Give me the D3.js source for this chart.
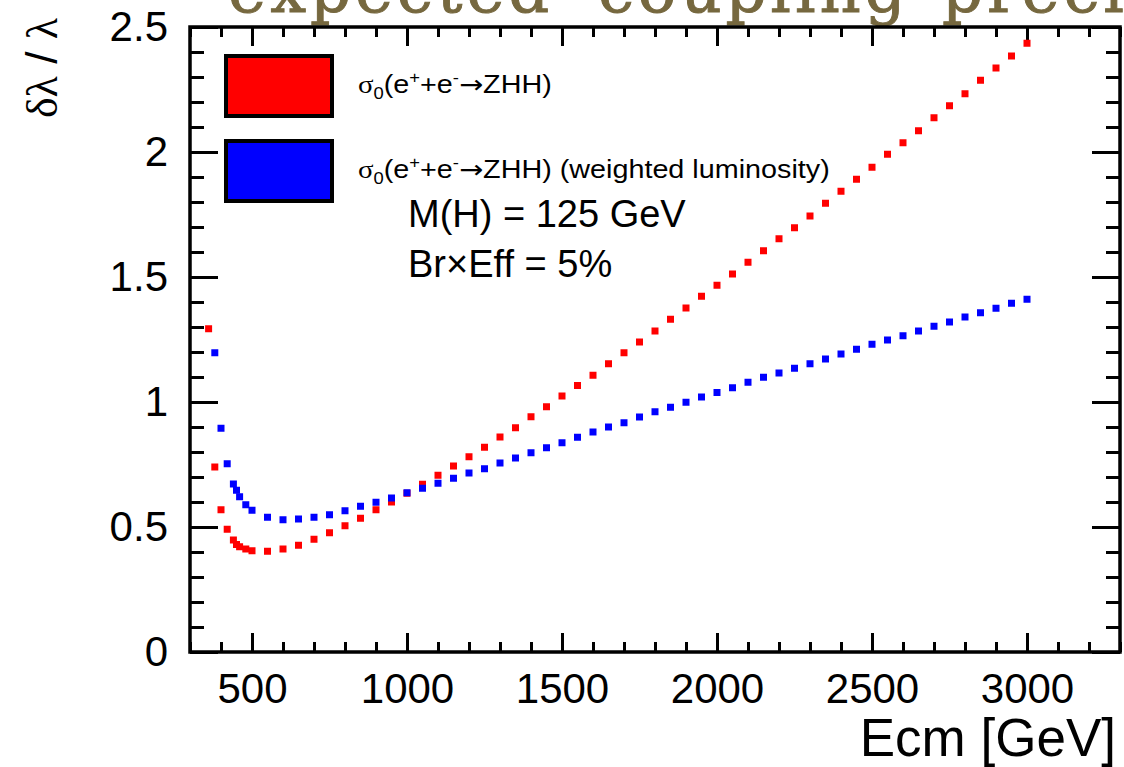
<!DOCTYPE html>
<html><head><meta charset="utf-8">
<script src="https://cdn.jsdelivr.net/npm/d3@7"></script>
<style>body{margin:0;background:#fff;overflow:hidden} svg{display:block}</style>
</head><body>
<svg id="c" width="1124" height="767"></svg>
<script>
// ---- data ----
const energies = [360,380,400,420,440,450,460,480,500,550,600,650,700,750,800,850,900,950,1000,
  1050,1100,1150,1200,1250,1300,1350,1400,1450,1500,1550,1600,1650,1700,1750,1800,1850,1900,1950,2000,
  2050,2100,2150,2200,2250,2300,2350,2400,2450,2500,2550,2600,2650,2700,2750,2800,2850,2900,2950,3000];
const sigmaZHH = [1.293,0.740,0.569,0.491,0.448,0.430,0.421,0.412,0.405,0.403,0.412,0.427,0.451,0.477,0.505,0.535,0.569,0.600,0.635,
  0.671,0.707,0.744,0.781,0.819,0.860,0.897,0.941,0.981,1.024,1.066,1.107,1.153,1.197,1.240,1.284,1.331,1.376,1.423,1.467,
  1.512,1.559,1.605,1.653,1.697,1.744,1.795,1.843,1.891,1.939,1.991,2.037,2.085,2.137,2.185,2.233,2.287,2.336,2.384,2.435];
const sigmaZHHWeighted = [null,1.197,0.895,0.753,0.672,0.647,0.621,0.589,0.567,0.539,0.529,0.532,0.539,0.549,0.565,0.583,0.599,0.616,0.637,
  0.655,0.675,0.695,0.716,0.733,0.756,0.776,0.797,0.817,0.837,0.859,0.880,0.900,0.917,0.940,0.961,0.979,0.999,1.020,1.038,
  1.057,1.079,1.099,1.116,1.135,1.153,1.172,1.192,1.211,1.231,1.248,1.265,1.284,1.303,1.320,1.340,1.357,1.375,1.395,1.411];
const xMajorTicks = [500,1000,1500,2000,2500,3000];
const xMinorTicks = d3.range(300, 3301, 100);
const yMajorTicks = [0,0.5,1,1.5,2,2.5];
const yMinorTicks = d3.range(0, 26).map(i => i/10);
const seriesColors = ["#ff0000", "#0000ff"];
const legendSuffix = ["", " (weighted luminosity)"];
const infoLines = ["M(H) = 125 GeV", "Br\u00d7Eff = 5%"];
const titleWords = ["expected", "coupling", "precision"];
const xTitle = "Ecm [GeV]";

// ---- layout ----
const svg = d3.select("#c");
const L = 190, R = 1120, T = 27, B = 652;
const x = d3.scaleLinear().domain([300, 3300]).range([L, R]);
const y = d3.scaleLinear().domain([0, 2.5]).range([B, T]);
const sans = "'Liberation Sans', Arial, Helvetica, sans-serif";

// title (cut off at top)
const titleX = [228, 598, 942];
titleWords.forEach((w, i) => {
  svg.append("text").attr("x", titleX[i]).attr("y", 12)
    .attr("font-family", "'DejaVu Serif', serif")
    .attr("font-size", 64).attr("letter-spacing", 4).attr("fill", "#76683f")
    .attr("stroke", "#76683f").attr("stroke-width", 1)
    .text(w);
});

function styleAxis(g) {
  g.select(".domain").remove();
  g.selectAll(".tick line").attr("stroke", "#000").attr("stroke-width", 3);
  g.selectAll("text").attr("font-family", sans).attr("font-size", 42).attr("fill", "#000");
}
// bottom
svg.append("g").attr("transform", `translate(0,${B})`)
  .call(d3.axisBottom(x).tickValues(xMinorTicks).tickSize(-10).tickFormat(""))
  .call(styleAxis);
svg.append("g").attr("transform", `translate(0,${B})`)
  .call(d3.axisBottom(x).tickValues(xMajorTicks).tickSize(-19).tickPadding(21).tickFormat(d3.format("d")))
  .call(styleAxis);
// top
svg.append("g").attr("transform", `translate(0,${T})`)
  .call(d3.axisTop(x).tickValues(xMinorTicks).tickSize(-10).tickFormat(""))
  .call(styleAxis);
svg.append("g").attr("transform", `translate(0,${T})`)
  .call(d3.axisTop(x).tickValues(xMajorTicks).tickSize(-19).tickFormat(""))
  .call(styleAxis);
// left
svg.append("g").attr("transform", `translate(${L},0)`)
  .call(d3.axisLeft(y).tickValues(yMinorTicks).tickSize(-14).tickFormat(""))
  .call(styleAxis);
svg.append("g").attr("transform", `translate(${L},0)`)
  .call(d3.axisLeft(y).tickValues(yMajorTicks).tickSize(-28).tickPadding(22).tickFormat(d => d3.format("")(d)))
  .call(styleAxis);
// right
svg.append("g").attr("transform", `translate(${R},0)`)
  .call(d3.axisRight(y).tickValues(yMinorTicks).tickSize(-14).tickFormat(""))
  .call(styleAxis);
svg.append("g").attr("transform", `translate(${R},0)`)
  .call(d3.axisRight(y).tickValues(yMajorTicks).tickSize(-28).tickFormat(""))
  .call(styleAxis);

// frame
svg.append("rect").attr("x", L).attr("y", T).attr("width", R - L).attr("height", B - T)
  .attr("fill", "none").attr("stroke", "#000").attr("stroke-width", 3.5);

// axis titles
svg.append("text").attr("x", 1116).attr("y", 756).attr("text-anchor", "end")
  .attr("font-family", sans).attr("font-size", 53).text(xTitle);
const yt = svg.append("text").attr("transform", "translate(57,18) rotate(-90)")
  .attr("text-anchor", "end").attr("font-size", 44);
yt.append("tspan").attr("font-family", "'Liberation Serif', serif").text("\u03b4\u03bb");
yt.append("tspan").attr("font-family", sans).text(" / ");
yt.append("tspan").attr("font-family", "'Liberation Serif', serif").text("\u03bb");

// data points
const series = [sigmaZHH, sigmaZHHWeighted];
const ms = 7;
series.forEach((vals, si) => {
  const pts = energies.map((e, i) => ({e, v: vals[i]})).filter(d => d.v != null && d.v <= 2.5);
  svg.append("g").selectAll("rect").data(pts).join("rect")
    .attr("x", d => x(d.e) - ms/2).attr("y", d => y(d.v) - ms/2)
    .attr("width", ms).attr("height", ms).attr("fill", seriesColors[si]);
});

// legend
const legY = [56, 141];
legY.forEach((ly, i) => {
  svg.append("rect").attr("x", 226).attr("y", ly).attr("width", 106).attr("height", 60)
    .attr("fill", seriesColors[i]).attr("stroke", "#000").attr("stroke-width", 4);
  const t = svg.append("text").attr("transform", `translate(358,${ly + 37}) scale(1.15,1)`)
    .attr("font-family", sans).attr("font-size", 25).attr("fill", "#000");
  t.append("tspan").attr("font-family", "'Liberation Serif', serif").text("\u03c3");
  t.append("tspan").attr("font-size", 16).attr("dy", 6).text("0");
  t.append("tspan").attr("dy", -6).text("(e");
  t.append("tspan").attr("font-size", 16).attr("dy", -10).text("+");
  t.append("tspan").attr("dy", 10).text("+e");
  t.append("tspan").attr("font-size", 16).attr("dy", -10).text("-");
  t.append("tspan").attr("dy", 10).attr("font-family", "'DejaVu Sans', sans-serif").text("\u2192");
  t.append("tspan").text("ZHH)" + legendSuffix[i]);
});
infoLines.forEach((s, i) => {
  svg.append("text").attr("x", 408).attr("y", 227 + i * 50)
    .attr("font-family", sans).attr("font-size", 38).attr("fill", "#000").text(s);
});
</script>
</body></html>
